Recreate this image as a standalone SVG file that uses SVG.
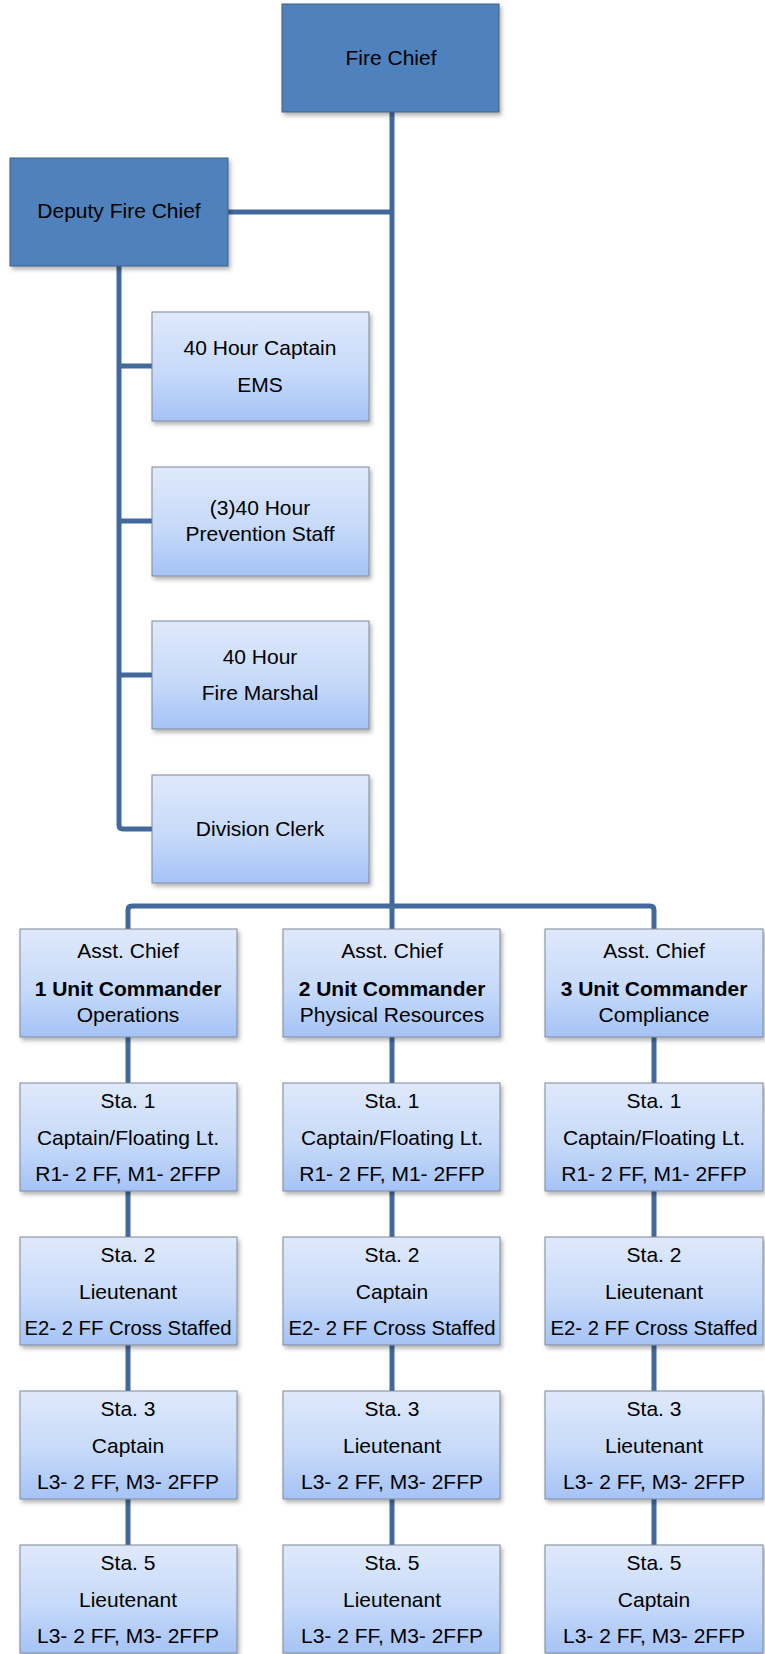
<svg xmlns="http://www.w3.org/2000/svg" width="765" height="1654" viewBox="0 0 765 1654">
<defs>
<linearGradient id="lg" x1="0" y1="0" x2="0" y2="1">
<stop offset="0" stop-color="#DFE9FB"/>
<stop offset="0.55" stop-color="#C7DAF9"/>
<stop offset="1" stop-color="#A5C3F6"/>
</linearGradient>
<filter id="sh" x="-10%" y="-10%" width="125%" height="130%">
<feDropShadow dx="2" dy="3" stdDeviation="2" flood-color="#000" flood-opacity="0.3"/>
</filter>
</defs>
<style>
.dark{fill:#4F81BD;stroke:#3E5F86;stroke-width:1;filter:url(#sh)}
.light{fill:url(#lg);stroke:#7F8896;stroke-width:1;filter:url(#sh)}
.conn{fill:none;stroke:#41699C;stroke-width:5;stroke-linejoin:round}
text{font-family:"Liberation Sans",Arial,sans-serif;font-size:21px;fill:#000;text-anchor:middle}
.b{font-weight:bold}
</style>
<rect width="765" height="1654" fill="#fff"/>
<g id="connectors">
<path class="conn" d="M392,112 V929"/>
<path class="conn" d="M228,212 H392"/>
<path class="conn" d="M128,929 V910 Q128,906 132,906 H650 Q654,906 654,910 V929"/>
<path class="conn" d="M119,266 V825 Q119,829 123,829 H152"/>
<path class="conn" d="M119,366 H152 M119,521 H152 M119,675 H152"/>
<path class="conn" d="M128,1037 V1083 M128,1191 V1237 M128,1345 V1391 M128,1499 V1545"/>
<path class="conn" d="M392,1037 V1083 M392,1191 V1237 M392,1345 V1391 M392,1499 V1545"/>
<path class="conn" d="M654,1037 V1083 M654,1191 V1237 M654,1345 V1391 M654,1499 V1545"/>
</g>
<g id="fire-chief"><rect class="dark" x="282" y="4" width="217" height="108"/><text x="391" y="65">Fire Chief</text></g>
<g id="deputy-fire-chief"><rect class="dark" x="10" y="158" width="218" height="108"/><text x="119" y="218">Deputy Fire Chief</text></g>
<g id="captain-ems"><rect class="light" x="152" y="312" width="217" height="109"/><text x="260" y="355">40 Hour Captain</text><text x="260" y="392">EMS</text></g>
<g id="prevention-staff"><rect class="light" x="152" y="467" width="217" height="109"/><text x="260" y="515">(3)40 Hour</text><text x="260" y="541">Prevention Staff</text></g>
<g id="fire-marshal"><rect class="light" x="152" y="621" width="217" height="108"/><text x="260" y="664">40 Hour</text><text x="260" y="700">Fire Marshal</text></g>
<g id="division-clerk"><rect class="light" x="152" y="775" width="217" height="108"/><text x="260" y="836">Division Clerk</text></g>
<g id="asst-chief-1"><rect class="light" x="20" y="929" width="217" height="108"/><text x="128" y="958">Asst. Chief</text><text class="b" x="128" y="996">1 Unit Commander</text><text x="128" y="1022">Operations</text></g>
<g id="asst-chief-2"><rect class="light" x="283" y="929" width="217" height="108"/><text x="392" y="958">Asst. Chief</text><text class="b" x="392" y="996">2 Unit Commander</text><text x="392" y="1022">Physical Resources</text></g>
<g id="asst-chief-3"><rect class="light" x="545" y="929" width="218" height="108"/><text x="654" y="958">Asst. Chief</text><text class="b" x="654" y="996">3 Unit Commander</text><text x="654" y="1022">Compliance</text></g>
<g id="c1-sta1"><rect class="light" x="20" y="1083" width="217" height="108"/><text x="128" y="1108">Sta. 1</text><text x="128" y="1145">Captain/Floating Lt.</text><text x="128" y="1181">R1- 2 FF, M1- 2FFP</text></g>
<g id="c1-sta2"><rect class="light" x="20" y="1237" width="217" height="108"/><text x="128" y="1262">Sta. 2</text><text x="128" y="1299">Lieutenant</text><text x="128" y="1335" textLength="207" lengthAdjust="spacingAndGlyphs">E2- 2 FF Cross Staffed</text></g>
<g id="c1-sta3"><rect class="light" x="20" y="1391" width="217" height="108"/><text x="128" y="1416">Sta. 3</text><text x="128" y="1453">Captain</text><text x="128" y="1489">L3- 2 FF, M3- 2FFP</text></g>
<g id="c1-sta5"><rect class="light" x="20" y="1545" width="217" height="108"/><text x="128" y="1570">Sta. 5</text><text x="128" y="1607">Lieutenant</text><text x="128" y="1643">L3- 2 FF, M3- 2FFP</text></g>
<g id="c2-sta1"><rect class="light" x="283" y="1083" width="217" height="108"/><text x="392" y="1108">Sta. 1</text><text x="392" y="1145">Captain/Floating Lt.</text><text x="392" y="1181">R1- 2 FF, M1- 2FFP</text></g>
<g id="c2-sta2"><rect class="light" x="283" y="1237" width="217" height="108"/><text x="392" y="1262">Sta. 2</text><text x="392" y="1299">Captain</text><text x="392" y="1335" textLength="207" lengthAdjust="spacingAndGlyphs">E2- 2 FF Cross Staffed</text></g>
<g id="c2-sta3"><rect class="light" x="283" y="1391" width="217" height="108"/><text x="392" y="1416">Sta. 3</text><text x="392" y="1453">Lieutenant</text><text x="392" y="1489">L3- 2 FF, M3- 2FFP</text></g>
<g id="c2-sta5"><rect class="light" x="283" y="1545" width="217" height="108"/><text x="392" y="1570">Sta. 5</text><text x="392" y="1607">Lieutenant</text><text x="392" y="1643">L3- 2 FF, M3- 2FFP</text></g>
<g id="c3-sta1"><rect class="light" x="545" y="1083" width="218" height="108"/><text x="654" y="1108">Sta. 1</text><text x="654" y="1145">Captain/Floating Lt.</text><text x="654" y="1181">R1- 2 FF, M1- 2FFP</text></g>
<g id="c3-sta2"><rect class="light" x="545" y="1237" width="218" height="108"/><text x="654" y="1262">Sta. 2</text><text x="654" y="1299">Lieutenant</text><text x="654" y="1335" textLength="207" lengthAdjust="spacingAndGlyphs">E2- 2 FF Cross Staffed</text></g>
<g id="c3-sta3"><rect class="light" x="545" y="1391" width="218" height="108"/><text x="654" y="1416">Sta. 3</text><text x="654" y="1453">Lieutenant</text><text x="654" y="1489">L3- 2 FF, M3- 2FFP</text></g>
<g id="c3-sta5"><rect class="light" x="545" y="1545" width="218" height="108"/><text x="654" y="1570">Sta. 5</text><text x="654" y="1607">Captain</text><text x="654" y="1643">L3- 2 FF, M3- 2FFP</text></g>
</svg>
